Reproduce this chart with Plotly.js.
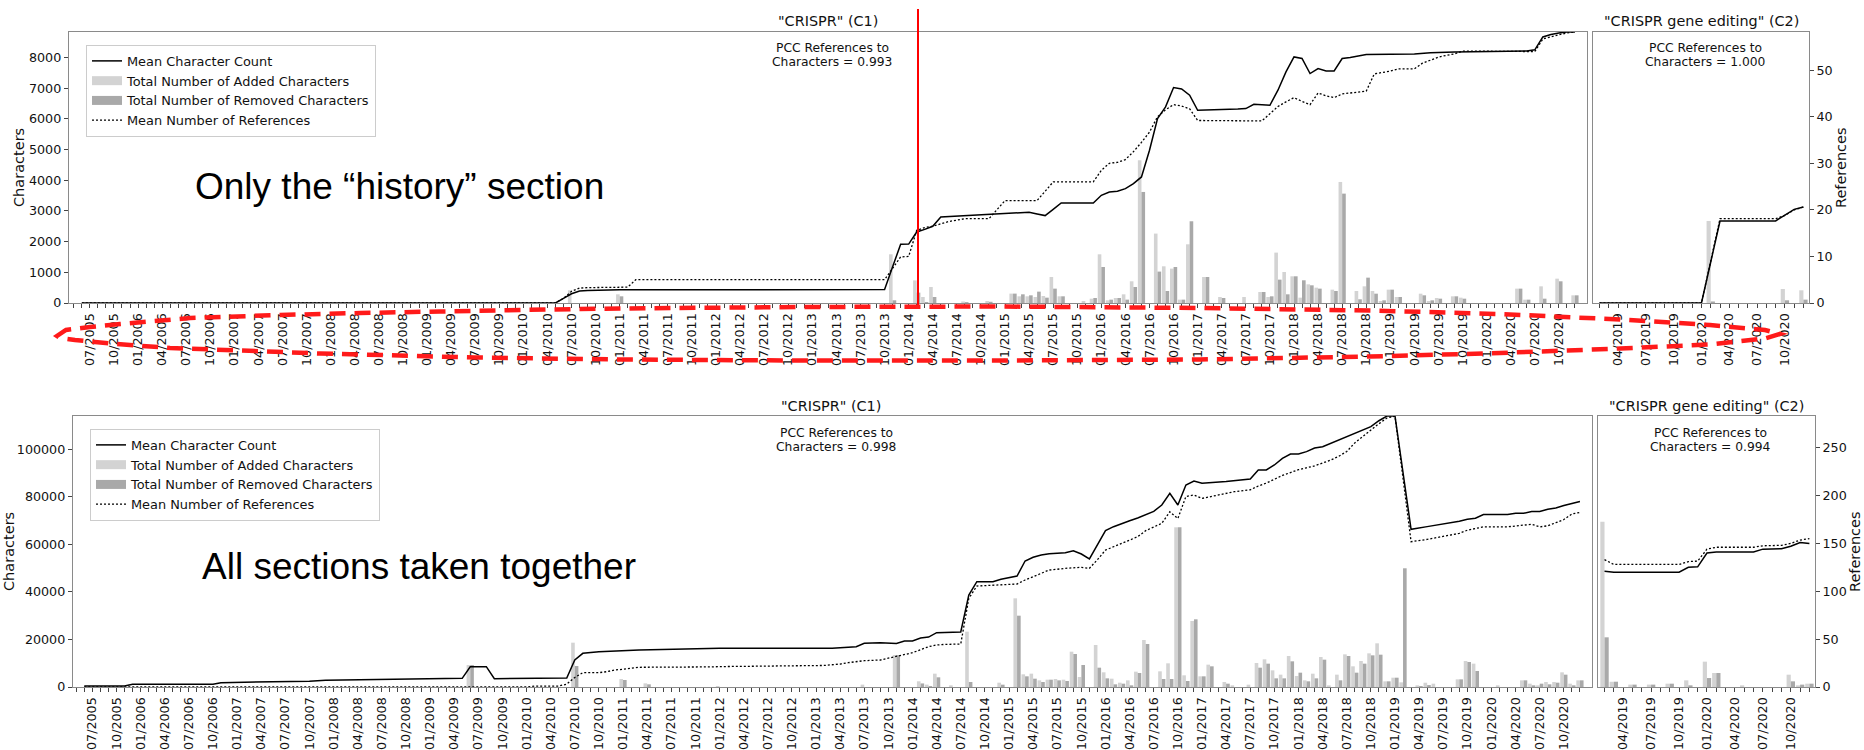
<!DOCTYPE html>
<html><head><meta charset="utf-8">
<script src="https://cdn.plot.ly/plotly-3.0.1.min.js"></script>
<style>html,body{margin:0;padding:0;background:#fff}#chart{width:1864px;height:750px}</style>
</head><body><div id="chart"></div>
<script>
// ---------- tick labels ----------
const c1TickLabels = ["07/2005","10/2005","01/2006","04/2006","07/2006","10/2006","01/2007","04/2007","07/2007","10/2007","01/2008","04/2008","07/2008","10/2008","01/2009","04/2009","07/2009","10/2009","01/2010","04/2010","07/2010","10/2010","01/2011","04/2011","07/2011","10/2011","01/2012","04/2012","07/2012","10/2012","01/2013","04/2013","07/2013","10/2013","01/2014","04/2014","07/2014","10/2014","01/2015","04/2015","07/2015","10/2015","01/2016","04/2016","07/2016","10/2016","01/2017","04/2017","07/2017","10/2017","01/2018","04/2018","07/2018","10/2018","01/2019","04/2019","07/2019","10/2019","01/2020","04/2020","07/2020","10/2020"];
const c2TickLabels = ["04/2019","07/2019","10/2019","01/2020","04/2020","07/2020","10/2020"];

// ---------- "history" section only : C1 ----------
const histC1CharMonths = ["06/2005","05/2010","06/2010","07/2010","08/2010","09/2010","01/2011","09/2013","10/2013","11/2013","12/2013","01/2014","02/2014","03/2014","04/2014","05/2014","08/2014","11/2014","01/2015","04/2015","05/2015","06/2015","07/2015","08/2015","12/2015","01/2016","02/2016","03/2016","04/2016","05/2016","06/2016","07/2016","08/2016","09/2016","10/2016","11/2016","12/2016","01/2017","06/2017","07/2017","08/2017","10/2017","11/2017","12/2017","01/2018","02/2018","03/2018","04/2018","05/2018","06/2018","07/2018","08/2018","10/2018","04/2019","06/2019","09/2019","06/2020","07/2020","08/2020","09/2020","10/2020","11/2020","12/2020"];
const histC1Chars = [0,0,150,300,390,405,430,436,440,1180,1913,1920,2314,2400,2500,2803,2848,2885,2920,2956,2900,2848,3050,3260,3260,3510,3618,3640,3727,3890,4107,4977,6010,6390,7020,6975,6770,6280,6320,6336,6477,6444,6933,7530,8018,7966,7477,7640,7560,7560,7966,8000,8097,8110,8150,8180,8210,8250,8670,8750,8800,8830,8830];
const histC1RefMonths = ["06/2005","05/2010","06/2010","07/2010","08/2010","09/2010","02/2011","03/2011","10/2013","11/2013","12/2013","01/2014","02/2014","03/2014","04/2014","05/2014","06/2014","07/2014","08/2014","11/2014","12/2014","01/2015","05/2015","06/2015","07/2015","12/2015","01/2016","02/2016","03/2016","04/2016","05/2016","06/2016","07/2016","08/2016","09/2016","10/2016","11/2016","12/2016","01/2017","09/2017","10/2017","11/2017","12/2017","01/2018","02/2018","03/2018","04/2018","05/2018","06/2018","07/2018","08/2018","10/2018","11/2018","01/2019","02/2019","04/2019","05/2019","06/2019","07/2019","08/2019","09/2019","10/2019","07/2020","08/2020","09/2020","10/2020","11/2020","12/2020"];
const histC1Refs = [0,0,1.0,2.5,3.2,3.3,3.4,5.0,5.0,7.5,9.9,10.0,15.6,16.2,16.5,17.0,17.5,17.8,18.1,18.1,20.0,22.0,22.0,24.0,26.0,26.0,28.5,30.0,30.2,30.8,32.5,34.5,36.7,40.0,41.5,42.6,42.3,41.7,39.2,39.1,40.6,42.2,43.2,44.1,43.3,42.6,45.1,44.5,44.1,44.9,45.1,45.5,49.2,49.8,50.3,50.3,51.5,52.2,52.8,53.2,53.5,54.1,54.0,56.7,57.2,57.6,58.0,58.2];
const histC1BarMonths = ["07/2010","01/2011","11/2013","02/2014","03/2014","04/2014","08/2014","11/2014","02/2015","03/2015","04/2015","05/2015","06/2015","07/2015","08/2015","11/2015","12/2015","01/2016","02/2016","03/2016","04/2016","05/2016","06/2016","08/2016","09/2016","10/2016","11/2016","12/2016","02/2017","04/2017","07/2017","09/2017","10/2017","11/2017","12/2017","01/2018","02/2018","03/2018","04/2018","06/2018","07/2018","09/2018","10/2018","11/2018","12/2018","01/2019","02/2019","05/2019","06/2019","07/2019","09/2019","10/2019","05/2020","06/2020","08/2020","10/2020","12/2020"];
const histC1Added = [414,283,1587,737,196,522,50,65,306,218,218,196,228,848,218,65,141,1587,88,163,283,707,4651,2262,1196,1120,109,1913,848,196,196,359,196,1642,1011,870,174,609,500,435,3944,391,543,391,65,435,196,304,65,163,218,174,468,109,543,793,250];
const histC1Removed = [0,218,88,338,33,196,30,40,306,283,250,370,174,468,218,0,163,1174,109,163,109,522,3618,1023,391,1174,109,2663,848,163,0,359,218,761,283,870,740,576,468,391,3564,120,826,304,87,435,196,250,87,141,218,141,468,109,141,707,250];

// ---------- "history" section only : C2 ----------
const histC2Months = ["02/2019","01/2020","02/2020","03/2020","09/2020","10/2020","11/2020","12/2020"];
const histC2Chars = [0,0,1336,2673,2673,2850,3050,3130];
const histC2Refs = [0,0,9.0,18.1,18.1,18.8,20.0,20.6];
const histC2BarMonths = ["02/2020","10/2020","12/2020"];
const histC2Added = [2673,456,414];
const histC2Removed = [50,88,110];

// ---------- all sections : C1 ----------
const allC1CharMonths = ["06/2005","11/2005","12/2005","10/2006","11/2006","03/2007","04/2007","10/2007","12/2007","07/2008","08/2008","09/2008","05/2009","06/2009","08/2009","09/2009","05/2010","06/2010","07/2010","08/2010","10/2010","01/2011","03/2011","01/2012","03/2013","06/2013","07/2013","09/2013","10/2013","11/2013","12/2013","01/2014","02/2014","03/2014","04/2014","07/2014","08/2014","09/2014","11/2014","12/2014","02/2015","03/2015","04/2015","05/2015","06/2015","08/2015","09/2015","10/2015","11/2015","12/2015","01/2016","02/2016","03/2016","04/2016","05/2016","06/2016","07/2016","08/2016","09/2016","10/2016","11/2016","12/2016","01/2017","04/2017","05/2017","06/2017","07/2017","08/2017","09/2017","10/2017","11/2017","12/2017","01/2018","02/2018","03/2018","04/2018","05/2018","06/2018","07/2018","08/2018","09/2018","10/2018","11/2018","12/2018","01/2019","02/2019","03/2019","05/2019","07/2019","08/2019","09/2019","10/2019","11/2019","12/2019","03/2020","04/2020","05/2020","06/2020","07/2020","08/2020","09/2020","10/2020","11/2020","12/2020"];
const allC1Chars = [420,420,1130,1130,1830,2000,2100,2450,2800,3100,3220,3500,3640,8540,8540,3500,3640,3800,11360,14170,14860,15300,15570,16270,16270,16970,18370,18640,18600,18300,19350,19350,20600,21000,22850,23130,38700,44300,44300,45300,46700,53000,54560,55530,56080,56500,57340,55950,53850,59740,65760,67440,68870,69960,71100,72500,73900,76570,81490,76570,84980,86660,85700,86400,86800,87100,87500,91290,91290,93400,96190,98010,98010,99000,100500,101100,102500,103700,105000,106500,108000,109500,112000,114000,114000,90000,66340,67460,68590,69000,69710,70550,71000,72520,72600,73100,73100,73800,73800,74780,75340,76320,77300,78000];
const allC1RefMonths = ["06/2005","01/2010","02/2010","05/2010","06/2010","07/2010","08/2010","10/2010","11/2010","12/2010","01/2011","02/2011","03/2011","12/2011","01/2012","02/2013","03/2013","04/2013","05/2013","07/2013","09/2013","10/2013","11/2013","12/2013","01/2014","02/2014","03/2014","04/2014","05/2014","07/2014","08/2014","09/2014","01/2015","02/2015","03/2015","04/2015","05/2015","06/2015","07/2015","08/2015","10/2015","11/2015","12/2015","01/2016","02/2016","03/2016","04/2016","05/2016","06/2016","07/2016","08/2016","09/2016","10/2016","11/2016","12/2016","01/2017","03/2017","05/2017","07/2017","08/2017","09/2017","10/2017","11/2017","12/2017","01/2018","02/2018","03/2018","04/2018","05/2018","06/2018","07/2018","08/2018","09/2018","10/2018","11/2018","12/2018","01/2019","02/2019","03/2019","05/2019","07/2019","09/2019","10/2019","12/2019","03/2020","05/2020","06/2020","07/2020","08/2020","09/2020","10/2020","11/2020","12/2020"];
const allC1Refs = [0,0,1,1,3,10,15,15,16,17.8,18.5,19.5,20.6,21.0,21.3,22.5,23,24,25.4,27.5,28.2,30,31.7,33.5,35.8,39,42.1,43.9,44.5,44.9,92.6,105.5,106.6,107.6,111.8,115,119,122.2,123,124,125,124,133,143,146.5,150,153.5,157,163.3,167,171,183,176,199,200.6,197,200.6,204,206,210,213,217,221,224,227,229,231,234,237,241,246,255,262,268,275,281,283,218,151.8,154.2,157,160.5,163.8,167.3,167.3,169,170,167.3,168.4,171.6,175,180.7,182.4];
const allC1BarMonths = ["06/2009","07/2010","01/2011","04/2011","01/2012","07/2013","11/2013","02/2014","03/2014","04/2014","06/2014","08/2014","12/2014","02/2015","03/2015","04/2015","05/2015","06/2015","07/2015","08/2015","09/2015","10/2015","12/2015","01/2016","02/2016","03/2016","04/2016","05/2016","06/2016","08/2016","09/2016","10/2016","11/2016","12/2016","01/2017","02/2017","04/2017","05/2017","07/2017","08/2017","09/2017","10/2017","11/2017","12/2017","01/2018","02/2018","03/2018","04/2018","05/2018","06/2018","07/2018","08/2018","09/2018","10/2018","11/2018","12/2018","01/2019","02/2019","04/2019","05/2019","06/2019","09/2019","10/2019","11/2019","02/2020","05/2020","06/2020","07/2020","08/2020","09/2020","10/2020","11/2020","12/2020"];
const allC1Added = [9250,18650,3360,1540,420,1000,13460,2400,1000,5610,700,23270,1820,37300,5330,5610,2800,3080,3360,3080,14860,4200,17670,6170,3500,1820,2800,6450,19770,6590,9960,67170,4910,27770,4490,9400,2100,700,980,10100,11640,7010,5190,13040,4630,2800,5600,12620,700,5190,13740,8700,10940,14160,18370,2380,3920,1960,700,1800,1400,3220,10940,9820,700,2800,1400,700,2100,2100,6170,1400,2800];
const allC1Removed = [9250,8830,2945,1120,0,0,13460,1500,400,4070,0,2100,980,30000,4490,3500,2100,3080,2800,2520,13880,9260,8130,3640,1120,1400,700,5890,18090,3360,3360,67170,2520,28470,4490,8700,1400,0,0,8130,9820,3640,3640,10800,6030,2380,3640,11500,0,2800,13040,6030,9820,13320,13600,2380,3920,49940,400,800,0,3220,10520,6730,0,2800,700,1400,1120,1820,5190,700,2800];

// ---------- all sections : C2 ----------
const allC2Months = ["02/2019","03/2019","10/2019","11/2019","12/2019","01/2020","02/2020","06/2020","07/2020","09/2020","10/2020","11/2020","12/2020"];
const allC2Chars = [48730,48320,48320,50340,50540,56380,56780,56780,57990,58200,59200,60810,60400];
const allC2Refs = [133,128,128,131,131.5,144,146,146,147.5,148,150,153.5,155];
const allC2BarMonths = ["02/2019","03/2019","05/2019","07/2019","09/2019","11/2019","01/2020","02/2020","05/2020","10/2020","11/2020","12/2020"];
const allC2Added = [69540,2200,1000,1000,1400,2800,10660,5880,700,5180,700,1400];
const allC2Removed = [20900,2230,1000,1000,1400,700,3770,5880,0,2380,1000,1400];

// ---------- annotation texts ----------
const titleC1 = '"CRISPR" (C1)';
const titleC2 = '"CRISPR gene editing" (C2)';
const pccLine1 = 'PCC References to';
const pccValues = ['Characters = 0.993', 'Characters = 1.000', 'Characters = 0.998', 'Characters = 0.994'];
const seriesNames = ['Mean Character Count','Total Number of Added Characters','Total Number of Removed Characters','Mean Number of References'];

// ---------- helpers ----------
const W = 1864, H = 750;
const px = v => v / W;
const py = v => 1 - v / H;
function idx(s){ const p = s.split('/'); return (Number(p[1]) - 2005) * 12 + Number(p[0]) - 1; }
function makeTicks(first, last, labels){
  const map = {}; labels.forEach(l => { map[idx(l)] = l; });
  const vals = [], text = [];
  for (let m = idx(first); m <= idx(last); m++){ vals.push(m); text.push(map[m] || ''); }
  return {vals, text};
}
const LIGHT = '#d3d3d3', DARK = '#a9a9a9', SPINE = '#8a8a8a', TICKC = '#444';
const FONT = 'DejaVu Sans, Verdana, sans-serif';

function xAxis(dom, anchor, range, first, last, labels){
  const t = makeTicks(first, last, labels);
  return {domain: dom, anchor, range, tickmode:'array', tickvals:t.vals, ticktext:t.text, tickangle:-90,
    ticks:'outside', ticklen:4, tickwidth:1, tickcolor:TICKC, tickfont:{size:12.7, color:'#111', family:FONT},
    showline:true, linecolor:SPINE, linewidth:1.2, mirror:true, showgrid:false, zeroline:false, fixedrange:true};
}
function yLeft(dom, anchor, range, tickvals, labels){
  return {domain: dom, anchor, range, tickmode:'array', tickvals, tickformat:'d', ticks: labels ? 'outside' : '', ticklen:4, tickwidth:1,
    tickcolor:TICKC, showticklabels: labels, tickfont:{size:12.7, color:'#111', family:FONT},
    showline:true, linecolor:SPINE, linewidth:1.2, mirror:true, showgrid:false, zeroline:false, fixedrange:true};
}
function yRight(over, anchor, range, tickvals, labels){
  return {overlaying: over, anchor, side:'right', range, tickmode:'array', tickvals: labels ? tickvals : [], tickformat:'d',
    ticks: labels ? 'outside' : '', ticklen:4, tickwidth:1, tickcolor:TICKC, showticklabels: labels,
    tickfont:{size:12.7, color:'#111', family:FONT}, showline:false, showgrid:false, zeroline:false, fixedrange:true};
}

const traces = [];
function addPanel(o){
  traces.push({type:'scatter', mode:'lines', x:o.charMonths.map(idx), y:o.chars, xaxis:o.x, yaxis:o.yc,
    line:{color:'#000', width:1.5}, name:seriesNames[0], legend:o.legend, legendrank:1, showlegend:o.show});
  traces.push({type:'bar', x:o.barMonths.map(idx), y:o.added, xaxis:o.x, yaxis:o.yc, offset:-0.45, width:0.45,
    marker:{color:LIGHT, line:{width:0}}, name:seriesNames[1], showlegend:false});
  traces.push({type:'bar', x:o.barMonths.map(idx), y:o.removed, xaxis:o.x, yaxis:o.yc, offset:0, width:0.45,
    marker:{color:DARK, line:{width:0}}, name:seriesNames[2], showlegend:false});
  traces.push({type:'scatter', mode:'lines', x:o.refMonths.map(idx), y:o.refs, xaxis:o.x, yaxis:o.yr,
    line:{color:'#000', width:1.3, dash:'2px,2px'}, name:seriesNames[3], legend:o.legend, legendrank:4, showlegend:o.show});
  if (o.show){
    // legend-only patches for the bar series (wide rectangles like the original legend)
    traces.push({type:'scatter', mode:'lines', x:[null], y:[null], xaxis:o.x, yaxis:o.yc, line:{color:LIGHT, width:9},
      name:seriesNames[1], legend:o.legend, legendrank:2, showlegend:true});
    traces.push({type:'scatter', mode:'lines', x:[null], y:[null], xaxis:o.x, yaxis:o.yc, line:{color:DARK, width:9},
      name:seriesNames[2], legend:o.legend, legendrank:3, showlegend:true});
  }
}
addPanel({charMonths:histC1CharMonths, chars:histC1Chars, refMonths:histC1RefMonths, refs:histC1Refs,
  barMonths:histC1BarMonths, added:histC1Added, removed:histC1Removed, x:'x', yc:'y', yr:'y2', legend:'legend', show:true});
addPanel({charMonths:histC2Months, chars:histC2Chars, refMonths:histC2Months, refs:histC2Refs,
  barMonths:histC2BarMonths, added:histC2Added, removed:histC2Removed, x:'x2', yc:'y3', yr:'y4', legend:'legend', show:false});
addPanel({charMonths:allC1CharMonths, chars:allC1Chars, refMonths:allC1RefMonths, refs:allC1Refs,
  barMonths:allC1BarMonths, added:allC1Added, removed:allC1Removed, x:'x3', yc:'y5', yr:'y6', legend:'legend2', show:true});
addPanel({charMonths:allC2Months, chars:allC2Chars, refMonths:allC2Months, refs:allC2Refs,
  barMonths:allC2BarMonths, added:allC2Added, removed:allC2Removed, x:'x4', yc:'y7', yr:'y8', legend:'legend2', show:false});

const topDom = [py(303), py(32)], botDom = [py(687), py(416)];
const topChars = [0, 8830], topRefs = [0, 58.2], botChars = [0, 114000], botRefs = [0, 283.1];
const tv = (a, b, s) => { const r = []; for (let v = a; v <= b; v += s) r.push(v); return r; };

const ann = [];
function txt(x, y, text, size, extra){ ann.push(Object.assign({xref:'paper', yref:'paper', x:px(x), y:py(y), text, showarrow:false,
  xanchor:'center', yanchor:'middle', font:{family:FONT, size, color:'#111'}}, extra || {})); }
txt(828, 21.5, titleC1, 14.4); txt(1701, 21.5, titleC2, 14.4);
txt(831, 406, titleC1, 14.4); txt(1706, 406, titleC2, 14.4);
[[832,48.3,62.3,0],[1705,48.3,62.3,1],[836,432.7,446.7,2],[1710,432.7,446.7,3]].forEach(a => {
  txt(a[0], a[1], pccLine1, 12.3); txt(a[0], a[2], pccValues[a[3]], 12.3);
});
txt(19, 168, 'Characters', 14.5, {textangle:-90}); txt(9, 552, 'Characters', 14.5, {textangle:-90});
txt(1841, 168, 'References', 14.5, {textangle:-90}); txt(1855, 552, 'References', 14.5, {textangle:-90});
txt(193, 187, 'Only the “history” section', 37, {xanchor:'left', font:{family:'Liberation Sans, Arial, sans-serif', size:37, color:'#000'}});
txt(200, 566, 'All sections taken together', 37, {xanchor:'left', font:{family:'Liberation Sans, Arial, sans-serif', size:37, color:'#000'}});

// red dashed loop around the top x tick labels
const loop = [[57,336],[66,330],[90,327],[120,324],[190,318],[280,315],[360,313],[440,311.5],[520,310],[620,308.5],[800,307],[1000,306.5],[1200,308],[1370,310.5],[1500,314],[1620,319.5],[1710,325],[1765,330],[1780,334],
  [1765,338.5],[1710,344.5],[1620,348.5],[1500,353],[1370,356.5],[1200,359.5],[1000,360.5],[800,360.5],[620,359.5],[475,357.5],[320,353.5],[240,350.5],[170,348],[110,343.5],[75,340],[60,338]];
const loopPath = 'M' + loop.map(p => px(p[0]).toFixed(5) + ',' + py(p[1]).toFixed(5)).join(' L') + ' Z';

const legendBase = {xref:'paper', yref:'paper', xanchor:'left', yanchor:'top', bgcolor:'rgba(255,255,255,0.85)',
  bordercolor:'#cccccc', borderwidth:1, font:{family:FONT, size:12.9, color:'#111'}, tracegroupgap:0, traceorder:'normal'};

const layout = {
  width:W, height:H, margin:{l:0, r:0, t:0, b:0}, paper_bgcolor:'#fff', plot_bgcolor:'rgba(0,0,0,0)',
  font:{family:FONT, color:'#111'}, barmode:'overlay', hovermode:false, showlegend:true,
  legend: Object.assign({x:px(86), y:py(45)}, legendBase),
  legend2: Object.assign({x:px(90), y:py(429)}, legendBase),
  xaxis:  xAxis([px(69), px(1587)], 'y', [3.4, 192.5], '05/2005', '12/2020', c1TickLabels),
  xaxis2: xAxis([px(1593), px(1809)], 'y3', [168.3, 191.6], '02/2019', '12/2020', c2TickLabels),
  xaxis3: xAxis([px(73), px(1592)], 'y5', [3.6, 192.5], '05/2005', '12/2020', c1TickLabels),
  xaxis4: xAxis([px(1598), px(1815)], 'y7', [168.3, 191.6], '02/2019', '12/2020', c2TickLabels),
  yaxis:  yLeft(topDom, 'x', topChars, tv(0, 8000, 1000), true),
  yaxis2: yRight('y', 'x', topRefs, [], false),
  yaxis3: yLeft(topDom, 'x2', topChars, [], false),
  yaxis4: yRight('y3', 'x2', topRefs, tv(0, 50, 10), true),
  yaxis5: yLeft(botDom, 'x3', botChars, tv(0, 100000, 20000), true),
  yaxis6: yRight('y5', 'x3', botRefs, [], false),
  yaxis7: yLeft(botDom, 'x4', botChars, [], false),
  yaxis8: yRight('y7', 'x4', botRefs, tv(0, 250, 50), true),
  annotations: ann,
  shapes: [
    {type:'line', xref:'paper', yref:'paper', x0:px(918), x1:px(918), y0:py(9), y1:py(306), line:{color:'#ff0000', width:2}, layer:'above'},
    {type:'path', xref:'paper', yref:'paper', path:loopPath, line:{color:'#ff1a1a', width:4.5, dash:'16px,9px'}, layer:'above'}
  ]
};
Plotly.newPlot('chart', traces, layout, {staticPlot:true, displayModeBar:false});
</script></body></html>
